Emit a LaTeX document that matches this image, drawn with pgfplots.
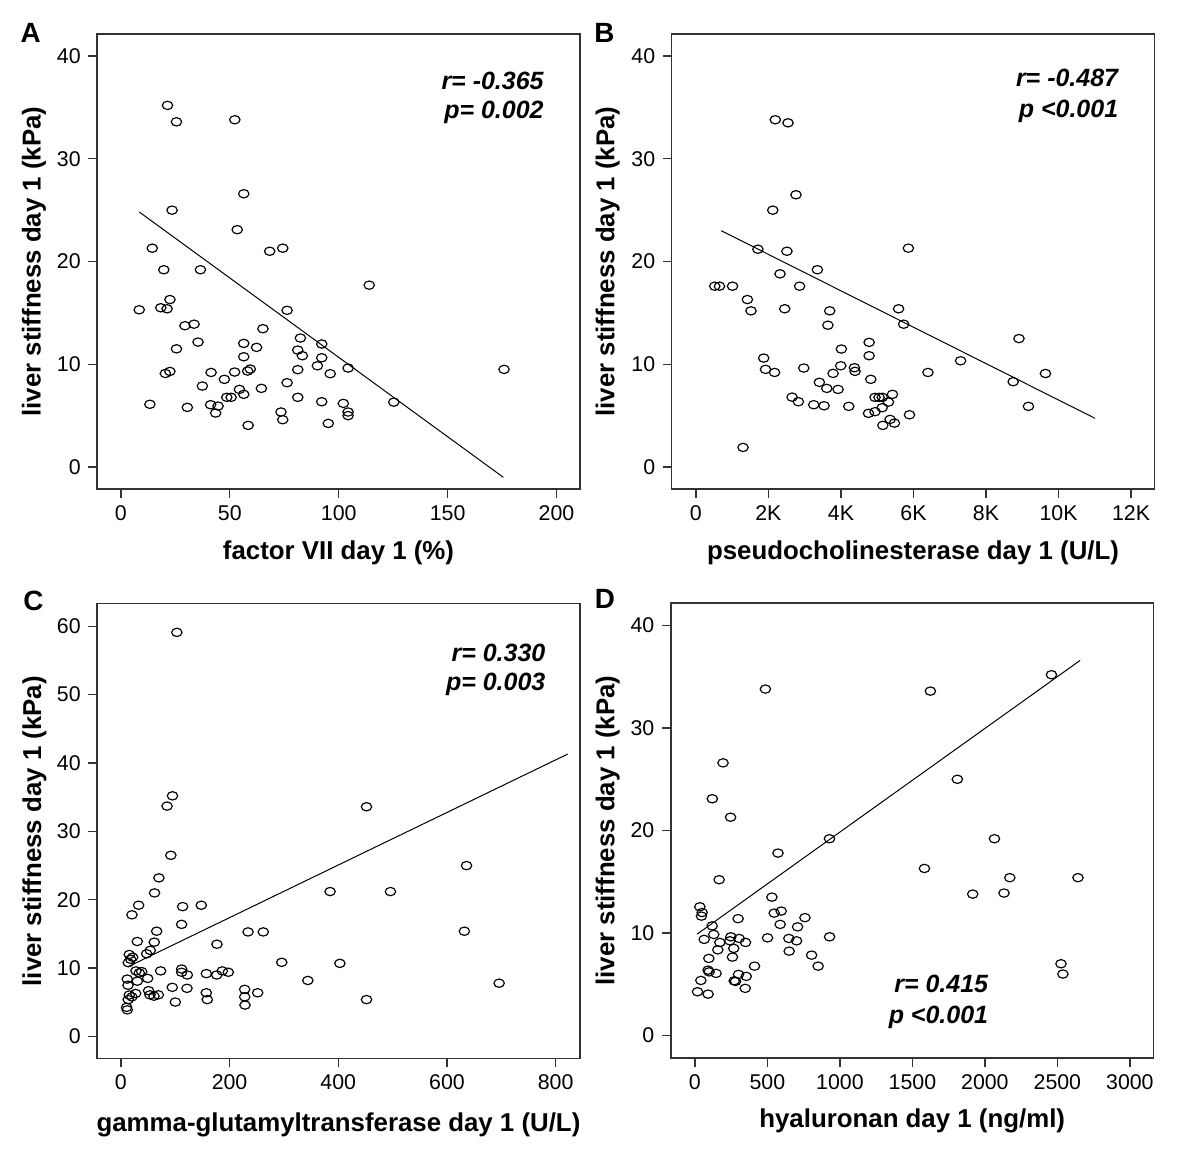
\documentclass[border=0pt]{standalone}
\usepackage{pgfplots}
\pgfplotsset{compat=1.18}
\usepackage{fontspec}
\setmainfont{Liberation Sans}

\pgfplotsset{
  panel/.style={
    scale only axis, width=289.6pt, height=273.1pt,
    anchor=south west,
    axis line style={draw=black!80, line width=0.8pt},
    tick align=outside, xtick pos=left, ytick pos=left,
    major tick length=5.2pt,
    every tick/.style={draw=black!80, line width=0.8pt},
    tick label style={font=\fontsize{12.8}{14}\selectfont, inner sep=0pt},
    /pgf/number format/assume math mode=true,
    /pgf/number format/1000 sep={},
    scaled ticks=false,
    xticklabel style={yshift=-4.3pt},
    yticklabel style={xshift=-4.5pt},
    label style={font=\bfseries\fontsize{15.5}{18}\selectfont},
    ylabel={liver stiffness day 1 (kPa)},
  },
  pts/.style={only marks, mark=o, mark size=2.5pt, mark options={xscale=1.25, line width=0.7pt, draw=black}},
  fit/.style={no marks, black, line width=0.6pt},
}
\tikzset{ann/.style={anchor=base east, font=\bfseries\itshape\fontsize{15}{18}\selectfont}}

\begin{document}
\begin{tikzpicture}
\path[use as bounding box] (0,0) rectangle (720pt,703.8pt);

% Panel A
\begin{axis}[panel, at={(58.3pt,410.3pt)},
  xmin=-10.9, xmax=210.7, ymin=-2.16, ymax=42.15,
  xtick={0,50,...,200}, ytick={0,10,...,40},
  xlabel={factor VII day 1 (\%)},
  xlabel style={at={(axis description cs:0.5,-0.1406)}, anchor=center},
  ylabel style={at={(axis description cs:-0.131,0.5)}, anchor=center}]
\addplot[pts] coordinates {
(21.4,35.2)(25.5,33.6)(52.3,33.8)(56.4,26.6)(23.5,25.0)(53.4,23.1)(14.4,21.3)(68.3,21.0)(74.3,21.3)(19.7,19.2)(36.5,19.2)(114.0,17.7)(8.4,15.3)(18.3,15.5)(21.2,15.4)(22.5,16.3)(76.3,15.25)(29.4,13.75)(33.6,13.9)(65.2,13.46)(35.4,12.16)(25.5,11.5)(82.4,12.55)(92.2,11.97)(56.4,12.03)(62.3,11.64)(81.2,11.38)(83.3,10.83)(56.4,10.73)(92.2,10.63)(90.2,9.85)(104.3,9.63)(96.1,9.08)(81.2,9.47)(76.3,8.2)(41.4,9.2)(52.2,9.24)(58.2,9.34)(59.4,9.53)(47.5,8.53)(37.4,7.88)(54.4,7.55)(56.4,7.07)(64.5,7.65)(48.6,6.78)(50.6,6.78)(81.2,6.78)(30.5,5.8)(41.2,6.06)(44.6,5.93)(43.5,5.25)(92.2,6.35)(102.1,6.19)(125.3,6.31)(73.5,5.35)(74.3,4.6)(58.4,4.05)(95.2,4.24)(104.3,5.35)(104.3,5.0)(20.4,9.1)(22.5,9.3)(175.9,9.5)(13.3,6.1)
};
\addplot[fit] coordinates {(8.45,24.82)(175.6,-1.01)};
\node[ann] at (axis cs:196.8,36.74) {r= -0.365};
\node[ann] at (axis cs:196.8,33.9) {p= 0.002};
\end{axis}

% Panel B
\begin{axis}[panel, at={(403.0pt,410.3pt)},
  xmin=-668, xmax=12643, ymin=-2.16, ymax=42.15,
  xtick={0,2000,...,12000}, xticklabels={0,2K,4K,6K,8K,10K,12K},
  ytick={0,10,...,40},
  xlabel={pseudocholinesterase day 1 (U/L)},
  xlabel style={at={(axis description cs:0.5,-0.1406)}, anchor=center},
  ylabel style={at={(axis description cs:-0.1326,0.5)}, anchor=center}]
\addplot[pts] coordinates {
(2190,33.8)(2540,33.5)(2760,26.5)(2120,25.0)(1710,21.2)(2510,21.0)(5860,21.3)(3350,19.2)(2320,18.8)(520,17.6)(650,17.6)(1010,17.6)(2860,17.6)(1420,16.3)(1520,15.2)(2450,15.4)(3690,15.2)(5590,15.4)(3640,13.8)(5730,13.9)(4777,12.13)(8910,12.5)(4012,11.48)(4777,10.83)(1870,10.6)(7300,10.34)(1920,9.5)(2170,9.2)(2975,9.63)(3995,9.85)(4371,9.66)(4390,9.31)(3783,9.11)(6400,9.2)(9640,9.1)(4823,8.53)(8750,8.3)(3405,8.24)(3609,7.65)(3921,7.55)(2652,6.8)(2826,6.35)(4940,6.78)(5050,6.78)(5140,6.78)(5420,7.07)(5310,6.32)(3250,6.06)(3535,5.96)(4216,5.9)(5135,5.77)(9170,5.9)(4940,5.38)(4760,5.22)(5890,5.08)(5356,4.63)(5155,4.05)(5475,4.27)(1300,1.9)
};
\addplot[fit] coordinates {(698,23.0)(11010,4.73)};
\node[ann] at (axis cs:11808,37.0) {r= -0.487};
\node[ann] at (axis cs:11808,34.04) {p <0.001};
\end{axis}

% Panel C
\begin{axis}[panel, at={(58.3pt,68.5pt)},
  xmin=-43.6, xmax=844.5, ymin=-3.26, ymax=63.3,
  xtick={0,200,...,800}, ytick={0,10,...,60},
  xlabel={gamma-glutamyltransferase day 1 (U/L)},
  xlabel style={at={(axis description cs:0.5,-0.1446)}, anchor=center},
  ylabel style={at={(axis description cs:-0.130,0.5)}, anchor=center}]
\addplot[pts] coordinates {
(103,59.1)(95,35.2)(85,33.7)(452,33.6)(92,26.5)(636,25.0)(70,23.2)(62,21.0)(385,21.2)(496,21.2)(32.7,19.2)(148,19.2)(113.7,19.0)(20.4,17.8)(111.8,16.4)(65.9,15.4)(234,15.3)(262,15.3)(632,15.4)(30.2,13.9)(61.5,13.8)(176.8,13.5)(54,12.6)(47.5,12.1)(15.5,12.0)(21.7,11.6)(18,11.3)(13.6,10.8)(296,10.85)(403,10.7)(27.8,9.6)(33.9,9.3)(38.3,9.5)(73.2,9.6)(111.8,9.87)(111.8,9.4)(122.3,9.0)(157.2,9.2)(176.3,9.0)(186.6,9.6)(197.7,9.4)(49.3,8.5)(11.8,8.4)(30.2,8.1)(344,8.2)(696,7.8)(13.1,7.5)(94.6,7.2)(121.6,7.05)(51,6.7)(227.8,6.9)(157.2,6.4)(251.7,6.4)(27.2,6.3)(15.5,6.07)(53.6,6.1)(68.9,6.1)(60.9,5.9)(20.4,5.8)(227.8,5.8)(13.6,5.4)(159,5.4)(452,5.4)(100.2,5.04)(228.4,4.6)(10.6,4.27)(11.8,3.9)
};
\addplot[fit] coordinates {(13,10.2)(822,41.3)};
\node[ann] at (axis cs:792,54.9) {r= 0.330};
\node[ann] at (axis cs:792,50.6) {p= 0.003};
\end{axis}

% Panel D
\begin{axis}[panel, at={(402.5pt,68.9pt)},
  xmin=-166, xmax=3163, ymin=-2.21, ymax=42.2,
  xtick={0,500,...,3000}, ytick={0,10,...,40},
  xlabel={hyaluronan day 1 (ng/ml)},
  xlabel style={at={(axis description cs:0.5,-0.1378)}, anchor=center},
  ylabel style={at={(axis description cs:-0.131,0.5)}, anchor=center}]
\addplot[pts] coordinates {
(486,33.8)(1624,33.6)(2459,35.2)(194,26.6)(1810,25.0)(120,23.1)(246,21.3)(928,19.2)(2066,19.2)(573,17.8)(1583,16.3)(167,15.2)(2172,15.4)(2642,15.4)(1916,13.8)(2132,13.9)(531,13.5)(34,12.56)(50,12.0)(45,11.65)(547,11.94)(595,12.14)(759,11.5)(298,11.4)(119,10.7)(588,10.84)(708,10.6)(130,9.86)(64,9.38)(172,9.08)(248,9.63)(241,9.24)(305,9.47)(349,9.08)(501,9.53)(648,9.47)(701,9.24)(929,9.63)(158,8.36)(268,8.5)(650,8.23)(96,7.52)(259,7.65)(805,7.84)(411,6.77)(850,6.77)(91,6.38)(98,6.21)(146,6.06)(301,5.96)(354,5.77)(41,5.37)(271,5.34)(280,5.28)(18,4.27)(91,4.04)(347,4.6)(2525,7.0)(2538,6.0)
};
\addplot[fit] coordinates {(16,9.9)(2657,36.6)};
\node[ann] at (axis cs:2063,4.15) {r= 0.415};
\node[ann] at (axis cs:2063,1.19) {p <0.001};
\end{axis}

\node[font=\bfseries\fontsize{16.7}{19}\selectfont] at (18.4pt,683.8pt) {A};
\node[font=\bfseries\fontsize{16.7}{19}\selectfont] at (362.6pt,683.8pt) {B};
\node[font=\bfseries\fontsize{16.7}{19}\selectfont] at (20.0pt,343.3pt) {C};
\node[font=\bfseries\fontsize{16.7}{19}\selectfont] at (362.9pt,344.5pt) {D};
\end{tikzpicture}
\end{document}
